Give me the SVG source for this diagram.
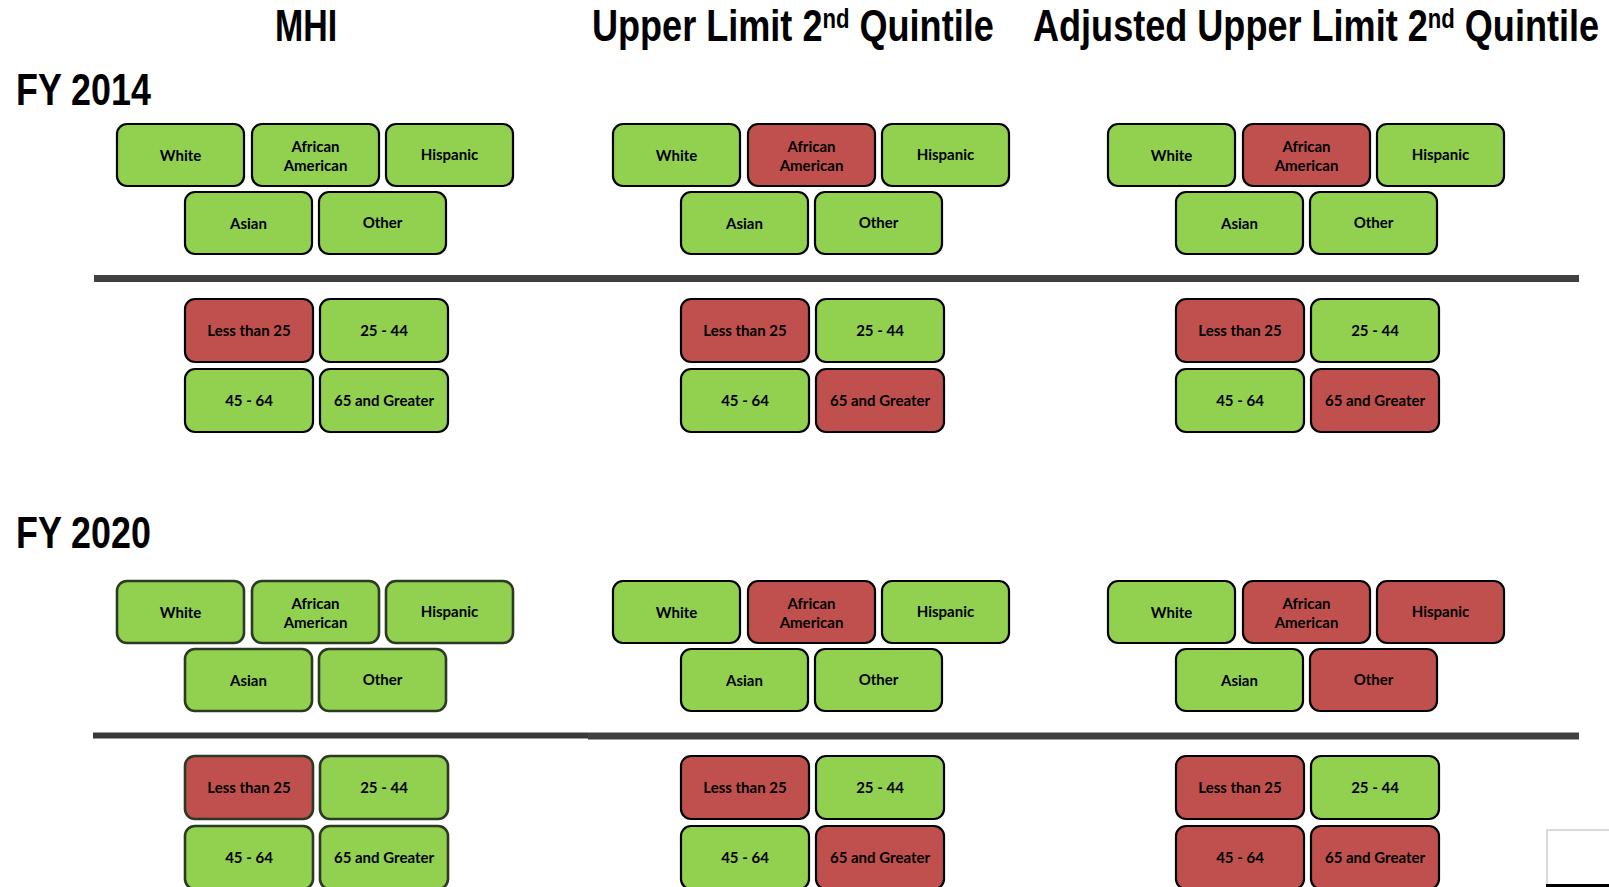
<svg xmlns="http://www.w3.org/2000/svg" width="1609" height="887" viewBox="0 0 1609 887">
<style>
.t{font-family:"Liberation Sans",Arial,sans-serif;font-weight:bold;fill:#000}
.h{font-size:44px}
.s{font-size:27px}
rect.g{fill:#92D050;stroke:#000;stroke-width:2.2}
rect.r{fill:#C0504D;stroke:#000;stroke-width:2.2}
.blur rect.g,.blur rect.r{stroke:#2c3a24;stroke-width:2.6}
text.l{font-family:Lato,"Open Sans","Liberation Sans",sans-serif;font-weight:bold;font-size:15px;text-anchor:middle;fill:#000}
.sep{stroke:#404040;stroke-width:7}
</style>
<rect width="1609" height="887" fill="#fff"/>
<g id="titles">
<text class="t h" transform="translate(275,41) scale(0.77,1)">MHI</text>
<text class="t h" transform="translate(592,41) scale(0.82,1)">Upper Limit 2<tspan class="s" dy="-13">nd</tspan><tspan dy="13"> Quintile</tspan></text>
<text class="t h" transform="translate(1033,41) scale(0.82,1)">Adjusted Upper Limit 2<tspan class="s" dy="-13">nd</tspan><tspan dy="13"> Quintile</tspan></text>
<text class="t h" transform="translate(16,105) scale(0.815,1)">FY 2014</text>
<text class="t h" transform="translate(16,548) scale(0.815,1)">FY 2020</text>
</g>
<g id="separators">
<line class="sep" x1="94" y1="278.5" x2="1579" y2="278.5"/>
<line class="sep" x1="93" y1="735.5" x2="588" y2="735.5" style="stroke:#383838;stroke-width:6"/>
<line class="sep" x1="588" y1="736" x2="1579" y2="736"/>
</g>

<g id="fy14-mhi" transform="translate(117,124)">
<g id="fy14-mhi-white"><rect class="g" x="0" y="0" width="127" height="62" rx="10"/><text class="l" x="63.5" y="37">White</text></g>
<g id="fy14-mhi-african-american"><rect class="g" x="135" y="0" width="127" height="62" rx="10"/><text class="l" x="198.5" y="27.5">African</text><text class="l" x="198.5" y="46.5">American</text></g>
<g id="fy14-mhi-hispanic"><rect class="g" x="269" y="0" width="127" height="62" rx="10"/><text class="l" x="332.5" y="36">Hispanic</text></g>
<g id="fy14-mhi-asian"><rect class="g" x="68" y="68" width="127" height="62" rx="10"/><text class="l" x="131.5" y="105">Asian</text></g>
<g id="fy14-mhi-other"><rect class="g" x="202" y="68" width="127" height="62" rx="10"/><text class="l" x="265.5" y="104">Other</text></g>
<g id="fy14-mhi-lt25"><rect class="r" x="68" y="175" width="128" height="63" rx="10"/><text class="l" x="132" y="212">Less than 25</text></g>
<g id="fy14-mhi-25-44"><rect class="g" x="203" y="175" width="128" height="63" rx="10"/><text class="l" x="267" y="212">25 - 44</text></g>
<g id="fy14-mhi-45-64"><rect class="g" x="68" y="245" width="128" height="63" rx="10"/><text class="l" x="132" y="282">45 - 64</text></g>
<g id="fy14-mhi-65plus"><rect class="g" x="203" y="245" width="128" height="63" rx="10"/><text class="l" x="267" y="282">65 and Greater</text></g>
</g>

<g id="fy14-ul" transform="translate(613,124)">
<g id="fy14-ul-white"><rect class="g" x="0" y="0" width="127" height="62" rx="10"/><text class="l" x="63.5" y="37">White</text></g>
<g id="fy14-ul-african-american"><rect class="r" x="135" y="0" width="127" height="62" rx="10"/><text class="l" x="198.5" y="27.5">African</text><text class="l" x="198.5" y="46.5">American</text></g>
<g id="fy14-ul-hispanic"><rect class="g" x="269" y="0" width="127" height="62" rx="10"/><text class="l" x="332.5" y="36">Hispanic</text></g>
<g id="fy14-ul-asian"><rect class="g" x="68" y="68" width="127" height="62" rx="10"/><text class="l" x="131.5" y="105">Asian</text></g>
<g id="fy14-ul-other"><rect class="g" x="202" y="68" width="127" height="62" rx="10"/><text class="l" x="265.5" y="104">Other</text></g>
<g id="fy14-ul-lt25"><rect class="r" x="68" y="175" width="128" height="63" rx="10"/><text class="l" x="132" y="212">Less than 25</text></g>
<g id="fy14-ul-25-44"><rect class="g" x="203" y="175" width="128" height="63" rx="10"/><text class="l" x="267" y="212">25 - 44</text></g>
<g id="fy14-ul-45-64"><rect class="g" x="68" y="245" width="128" height="63" rx="10"/><text class="l" x="132" y="282">45 - 64</text></g>
<g id="fy14-ul-65plus"><rect class="r" x="203" y="245" width="128" height="63" rx="10"/><text class="l" x="267" y="282">65 and Greater</text></g>
</g>

<g id="fy14-adj" transform="translate(1108,124)">
<g id="fy14-adj-white"><rect class="g" x="0" y="0" width="127" height="62" rx="10"/><text class="l" x="63.5" y="37">White</text></g>
<g id="fy14-adj-african-american"><rect class="r" x="135" y="0" width="127" height="62" rx="10"/><text class="l" x="198.5" y="27.5">African</text><text class="l" x="198.5" y="46.5">American</text></g>
<g id="fy14-adj-hispanic"><rect class="g" x="269" y="0" width="127" height="62" rx="10"/><text class="l" x="332.5" y="36">Hispanic</text></g>
<g id="fy14-adj-asian"><rect class="g" x="68" y="68" width="127" height="62" rx="10"/><text class="l" x="131.5" y="105">Asian</text></g>
<g id="fy14-adj-other"><rect class="g" x="202" y="68" width="127" height="62" rx="10"/><text class="l" x="265.5" y="104">Other</text></g>
<g id="fy14-adj-lt25"><rect class="r" x="68" y="175" width="128" height="63" rx="10"/><text class="l" x="132" y="212">Less than 25</text></g>
<g id="fy14-adj-25-44"><rect class="g" x="203" y="175" width="128" height="63" rx="10"/><text class="l" x="267" y="212">25 - 44</text></g>
<g id="fy14-adj-45-64"><rect class="g" x="68" y="245" width="128" height="63" rx="10"/><text class="l" x="132" y="282">45 - 64</text></g>
<g id="fy14-adj-65plus"><rect class="r" x="203" y="245" width="128" height="63" rx="10"/><text class="l" x="267" y="282">65 and Greater</text></g>
</g>

<g id="fy20-mhi" class="blur" transform="translate(117,581)">
<g id="fy20-mhi-white"><rect class="g" x="0" y="0" width="127" height="62" rx="10"/><text class="l" x="63.5" y="37">White</text></g>
<g id="fy20-mhi-african-american"><rect class="g" x="135" y="0" width="127" height="62" rx="10"/><text class="l" x="198.5" y="27.5">African</text><text class="l" x="198.5" y="46.5">American</text></g>
<g id="fy20-mhi-hispanic"><rect class="g" x="269" y="0" width="127" height="62" rx="10"/><text class="l" x="332.5" y="36">Hispanic</text></g>
<g id="fy20-mhi-asian"><rect class="g" x="68" y="68" width="127" height="62" rx="10"/><text class="l" x="131.5" y="105">Asian</text></g>
<g id="fy20-mhi-other"><rect class="g" x="202" y="68" width="127" height="62" rx="10"/><text class="l" x="265.5" y="104">Other</text></g>
<g id="fy20-mhi-lt25"><rect class="r" x="68" y="175" width="128" height="63" rx="10"/><text class="l" x="132" y="212">Less than 25</text></g>
<g id="fy20-mhi-25-44"><rect class="g" x="203" y="175" width="128" height="63" rx="10"/><text class="l" x="267" y="212">25 - 44</text></g>
<g id="fy20-mhi-45-64"><rect class="g" x="68" y="245" width="128" height="63" rx="10"/><text class="l" x="132" y="282">45 - 64</text></g>
<g id="fy20-mhi-65plus"><rect class="g" x="203" y="245" width="128" height="63" rx="10"/><text class="l" x="267" y="282">65 and Greater</text></g>
</g>

<g id="fy20-ul" transform="translate(613,581)">
<g id="fy20-ul-white"><rect class="g" x="0" y="0" width="127" height="62" rx="10"/><text class="l" x="63.5" y="37">White</text></g>
<g id="fy20-ul-african-american"><rect class="r" x="135" y="0" width="127" height="62" rx="10"/><text class="l" x="198.5" y="27.5">African</text><text class="l" x="198.5" y="46.5">American</text></g>
<g id="fy20-ul-hispanic"><rect class="g" x="269" y="0" width="127" height="62" rx="10"/><text class="l" x="332.5" y="36">Hispanic</text></g>
<g id="fy20-ul-asian"><rect class="g" x="68" y="68" width="127" height="62" rx="10"/><text class="l" x="131.5" y="105">Asian</text></g>
<g id="fy20-ul-other"><rect class="g" x="202" y="68" width="127" height="62" rx="10"/><text class="l" x="265.5" y="104">Other</text></g>
<g id="fy20-ul-lt25"><rect class="r" x="68" y="175" width="128" height="63" rx="10"/><text class="l" x="132" y="212">Less than 25</text></g>
<g id="fy20-ul-25-44"><rect class="g" x="203" y="175" width="128" height="63" rx="10"/><text class="l" x="267" y="212">25 - 44</text></g>
<g id="fy20-ul-45-64"><rect class="g" x="68" y="245" width="128" height="63" rx="10"/><text class="l" x="132" y="282">45 - 64</text></g>
<g id="fy20-ul-65plus"><rect class="r" x="203" y="245" width="128" height="63" rx="10"/><text class="l" x="267" y="282">65 and Greater</text></g>
</g>

<g id="fy20-adj" transform="translate(1108,581)">
<g id="fy20-adj-white"><rect class="g" x="0" y="0" width="127" height="62" rx="10"/><text class="l" x="63.5" y="37">White</text></g>
<g id="fy20-adj-african-american"><rect class="r" x="135" y="0" width="127" height="62" rx="10"/><text class="l" x="198.5" y="27.5">African</text><text class="l" x="198.5" y="46.5">American</text></g>
<g id="fy20-adj-hispanic"><rect class="r" x="269" y="0" width="127" height="62" rx="10"/><text class="l" x="332.5" y="36">Hispanic</text></g>
<g id="fy20-adj-asian"><rect class="g" x="68" y="68" width="127" height="62" rx="10"/><text class="l" x="131.5" y="105">Asian</text></g>
<g id="fy20-adj-other"><rect class="r" x="202" y="68" width="127" height="62" rx="10"/><text class="l" x="265.5" y="104">Other</text></g>
<g id="fy20-adj-lt25"><rect class="r" x="68" y="175" width="128" height="63" rx="10"/><text class="l" x="132" y="212">Less than 25</text></g>
<g id="fy20-adj-25-44"><rect class="g" x="203" y="175" width="128" height="63" rx="10"/><text class="l" x="267" y="212">25 - 44</text></g>
<g id="fy20-adj-45-64"><rect class="r" x="68" y="245" width="128" height="63" rx="10"/><text class="l" x="132" y="282">45 - 64</text></g>
<g id="fy20-adj-65plus"><rect class="r" x="203" y="245" width="128" height="63" rx="10"/><text class="l" x="267" y="282">65 and Greater</text></g>
</g>

<g id="corner-frame">
<path d="M1547,887 V830 H1609" fill="none" stroke="#d9d9d9" stroke-width="2"/>
<rect x="1546" y="884" width="63" height="3" fill="#000"/>
</g>
</svg>
